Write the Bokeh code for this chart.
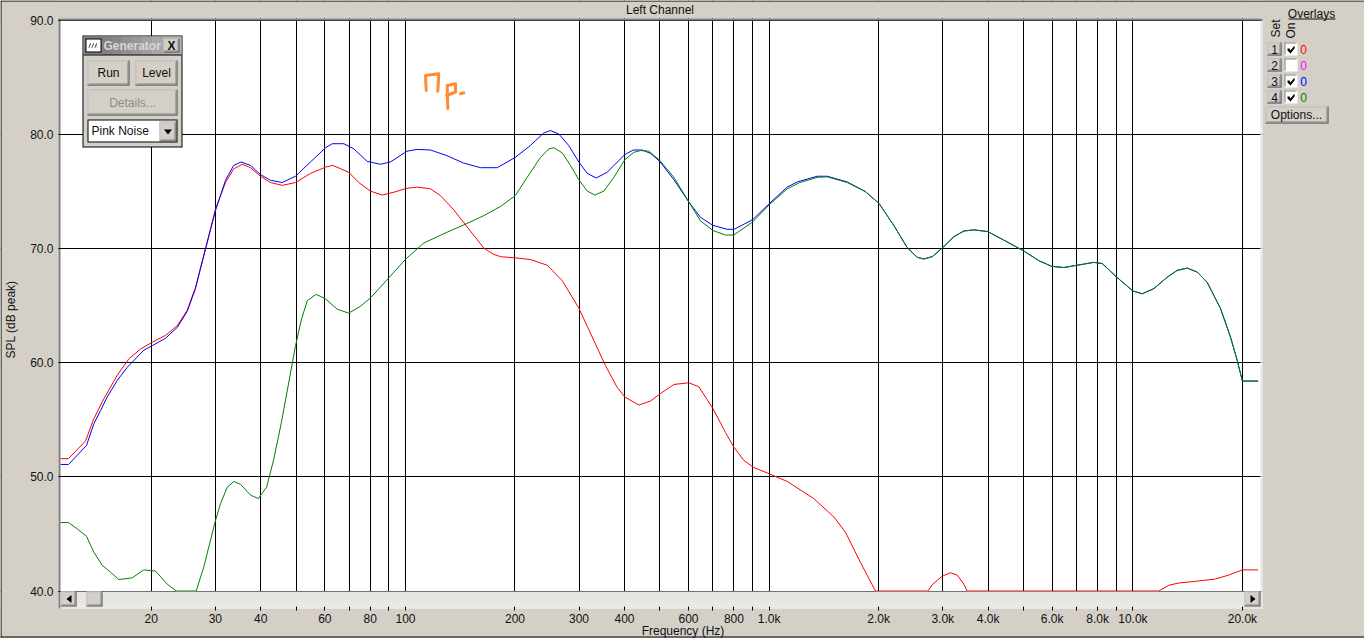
from bokeh.plotting import figure
from bokeh.embed import file_html
from bokeh.resources import INLINE
from bokeh.models import FixedTicker, Label, BoxAnnotation, PolyAnnotation

# ---- data ----
blue_hz = [11.26,11.84,13.27,13.9,14.5,15.13,16.12,17.17,19.07,20.12,21.88,23.57,25.1,26.46,27.2,28.2,30.04,32,33.7,35.3,37.5,39.9,42.5,45.8,49.85,54.8,60.3,62.9,67.7,72.1,78.5,85.4,90.9,101,107.7,117.1,130.2,144.6,160.8,178.7,200.3,220.7,240,250.4,264,281,299.6,316,334.5,358.5,401,423,447.5,472,500,547,601,647,700,766,801,901,1004,1121,1194,1355,1444,1639,1840,2006,2200,2395,2552,2661,2807,3001,3218,3429,3652,3991,4417,5012,5513,5984,6457,7027,7805,8236,9030,9993,10607,11416,12425,13241,14107,15026,16007,17418,18551,19360,20000,22100]
blue_db = [51.09,51.09,52.75,54.65,55.8,57.0,58.45,59.6,61.1,61.5,62.15,63.1,64.5,66.5,68.1,70.0,73.35,76.0,77.3,77.6,77.3,76.5,76.0,75.8,76.35,77.6,78.85,79.2,79.2,78.75,77.65,77.4,77.6,78.55,78.7,78.65,78.15,77.5,77.1,77.1,78.0,79.05,80.15,80.35,80.05,79.05,77.6,76.6,76.2,76.7,78.25,78.65,78.65,78.35,77.65,76.05,74.1,72.75,72.05,71.7,71.7,72.55,74.0,75.4,75.85,76.35,76.35,75.85,75.0,73.95,72.05,70.1,69.25,69.1,69.3,70.1,71.05,71.55,71.65,71.5,70.75,69.8,68.95,68.45,68.35,68.55,68.8,68.7,67.5,66.3,66.05,66.5,67.5,68.1,68.3,67.95,67.05,64.75,62.25,60.2,58.4,58.4]

green_hz = [11.26,11.84,12.51,13.27,13.9,14.66,15.45,16.28,17.72,19.07,20.54,22.12,23.41,26.58,27.88,30.04,31,32.35,33.75,35.2,37.5,39.4,41.5,43.4,45.6,49.85,51.7,53.7,56.8,60.3,64.9,69.8,75.2,80.5,90,100.2,112.3,130.2,146.2,164.2,182.5,200.3,216,235,247.7,255.8,269.7,284.2,299.6,316,331.5,351,373.9,401,424.5,442.7,466.7,500,547,601,647,700,758,799.5,901,1004,1121,1214,1355,1444,1639,1840,2006,2200,2395,2552,2661,2807,3001,3218,3429,3652,3991,4417,5012,5513,5984,6457,7027,7805,8236,9030,9993,10607,11416,12425,13241,14107,15026,16007,17418,18551,19360,20000,22100]
green_db = [46.0,46.0,45.45,44.8,43.4,42.25,41.65,41.0,41.15,41.85,41.75,40.6,40.0,40.0,42.1,46.2,47.65,49.1,49.6,49.35,48.4,48.1,49.1,51.5,54.8,61.5,63.75,65.45,66.0,65.6,64.7,64.35,64.95,65.75,67.45,69.1,70.5,71.45,72.15,72.9,73.7,74.65,76.25,78.0,78.75,78.85,78.4,77.3,76.05,75.05,74.7,75.05,76.25,77.8,78.45,78.6,78.55,77.75,76.25,74.1,72.45,71.6,71.2,71.2,72.35,73.9,75.25,75.8,76.25,76.3,75.8,75.0,73.95,72.05,70.1,69.25,69.1,69.3,70.1,71.05,71.55,71.65,71.5,70.75,69.8,68.95,68.45,68.35,68.55,68.8,68.7,67.5,66.3,66.05,66.5,67.5,68.1,68.3,67.95,67.05,64.75,62.25,60.2,58.4,58.4]

red_hz = [11.26,11.84,13.19,13.9,14.81,16.12,17.35,18.68,20.12,21.88,23.57,25.1,26.46,27.3,28.2,30.04,32,33.7,35.6,37.5,39.9,42.5,45.8,49.85,54.8,60.3,63.1,69.8,74.4,80.1,86.3,92.9,101,107.7,117.1,124.8,135.8,147.8,164.2,175,182.5,199.8,220.7,245.3,269.7,299.6,329.5,354.7,382,401,438,472,502,547,601,640.5,700,758,799.5,851.7,903.6,1004,1121,1326,1505,1621,1782,1960,2730,2807,2990,3152,3288,3429,3503,11780,12550,13370,14860,16870,18350,20000,22100]
red_db = [51.6,51.6,53.15,55.1,56.85,58.9,60.35,61.2,61.8,62.4,63.25,64.6,66.6,68.2,70.0,73.5,75.8,77.0,77.4,77.1,76.35,75.8,75.55,75.8,76.6,77.15,77.3,76.7,75.8,75.05,74.7,74.95,75.3,75.4,75.25,74.65,73.4,71.9,70.05,69.5,69.3,69.2,69.05,68.55,67.2,64.8,61.95,59.75,57.85,57.0,56.3,56.65,57.3,58.1,58.25,57.9,56.0,53.9,52.6,51.45,50.85,50.25,49.6,48.1,46.5,45.15,42.5,40.0,40.0,40.55,41.3,41.6,41.4,40.6,40.0,40.0,40.5,40.7,40.85,41.05,41.4,41.85,41.85]

x_labelled = [20,30,40,60,80,100,200,300,400,600,800,1000,2000,3000,4000,6000,8000,10000,20000]
x_names = ["20","30","40","60","80","100","200","300","400","600","800","1.0k","2.0k","3.0k","4.0k","6.0k","8.0k","10.0k","20.0k"]
x_unlabelled = [50,70,90,500,700,900,5000,7000,9000]
y_ticks = [40,50,60,70,80,90]

FACE = "#d4d0c8"
FONT = "Liberation Sans"
W, H = 1364, 638
DECADE_PX = 363.7
PX_PER_DB = 11.41


def hz_at(px):
    return 10 ** (2 + (px - 405) / DECADE_PX)


def db_at(py):
    return 90 - (py - 20) / PX_PER_DB


# The frame fills the page so that the window chrome around the plot can be drawn in it.
p = figure(width=W, height=H, margin=(0, 0, 0, 0), output_backend="svg",
           toolbar_location=None, x_axis_type="log",
           x_range=(hz_at(0), hz_at(W)), y_range=(db_at(H), db_at(0)),
           min_border_left=0, min_border_right=0, min_border_top=0, min_border_bottom=0,
           background_fill_color="white", border_fill_color=FACE, outline_line_color=None)

# axes and grid
ax = p.xaxis[0]
ax.fixed_location = db_at(606)
ax.level = "overlay"
ax.ticker = FixedTicker(ticks=x_labelled, minor_ticks=x_unlabelled)
ax.major_label_overrides = dict(zip(x_labelled, x_names))
ax.axis_line_color = None
ax.major_tick_out, ax.major_tick_in = 4, 0
ax.minor_tick_out, ax.minor_tick_in = 4, 0
ax.major_tick_line_color = "black"
ax.minor_tick_line_color = "black"
ax.major_label_standoff = 1
ax.major_label_text_font = FONT
ax.major_label_text_font_size = "12px"
ax.major_label_text_color = "#101010"

ay = p.yaxis[0]
ay.fixed_location = hz_at(60)
ay.level = "overlay"
ay.ticker = FixedTicker(ticks=y_ticks)
ay.major_label_overrides = {v: f"{v:.1f}" for v in y_ticks}
ay.axis_line_color = None
ay.minor_tick_line_color = None
ay.major_tick_out, ay.major_tick_in = 2, 0
ay.major_tick_line_color = "black"
ay.major_label_standoff = 5
ay.major_label_text_font = FONT
ay.major_label_text_font_size = "12px"
ay.major_label_text_color = "#101010"
ay.axis_label = "SPL (dB peak)"
ay.axis_label_text_font = FONT
ay.axis_label_text_font_size = "12px"
ay.axis_label_text_font_style = "normal"
ay.axis_label_text_color = "#101010"
ay.axis_label_standoff = 9

for g in (p.xgrid, p.ygrid):
    g.grid_line_color = "black"
    g.grid_line_width = 1
    g.grid_line_alpha = 1
p.xgrid.minor_grid_line_color = "black"
p.xgrid.ticker = ax.ticker
p.ygrid.ticker = ay.ticker

# curves
p.line(red_hz, red_db, line_color="#ff0000", line_width=1)
p.line(blue_hz, blue_db, line_color="#0000ff", line_width=1)
p.line(green_hz, green_db, line_color="#008000", line_width=1)

# handwritten note on the screenshot
note_strokes = [
    [(425.7, 90), (425, 75), (438.3, 73.3), (437.3, 90.7)],
    [(447.3, 108), (446.7, 85), (455, 83.3), (455, 91.7), (446, 95)],
    [(460, 93.3), (463.3, 92.3)],
]
for stroke in note_strokes:
    p.line([hz_at(a) for a, _ in stroke], [db_at(b) for _, b in stroke],
           line_color="#ff8a33", line_width=3, line_cap="round", line_join="round")


# ---- window chrome, given in page pixels ----
def box(l, t, r, b, fill=FACE, level="overlay"):
    p.add_layout(BoxAnnotation(left=l, right=r, top=H - t, bottom=H - b,
                               left_units="screen", right_units="screen",
                               top_units="screen", bottom_units="screen",
                               fill_color=fill, fill_alpha=1, line_color=None, level=level))


def poly(points, fill="black"):
    p.add_layout(PolyAnnotation(xs=[a for a, _ in points], ys=[H - b for _, b in points],
                                xs_units="screen", ys_units="screen",
                                fill_color=fill, fill_alpha=1, line_color=None, level="overlay"))


def text(px, py, s, align="center", color="#101010", size=12, angle=0, style="normal"):
    p.add_layout(Label(x=px, y=H - py, x_units="screen", y_units="screen", text=s,
                       text_align=align, text_baseline="middle", text_color=color,
                       text_font=FONT, text_font_size=f"{size}px", text_font_style=style,
                       angle=angle, angle_units="deg", level="overlay"))


def button(l, t, r, b):
    box(l, t, r, b, "#404040")
    box(l, t, r - 1, b - 1, "#ffffff")
    box(l + 1, t + 1, r - 1, b - 1, "#808080")
    box(l + 1, t + 1, r - 2, b - 2, FACE)


# surround of the plot area, under the axes
box(0, 0, 58, H, FACE, "annotation")
box(0, 0, W, 18, FACE, "annotation")
box(1262, 0, W, H, FACE, "annotation")
box(0, 608, W, H, FACE, "annotation")
box(58, 18, 60, 608, "#808080", "annotation")
box(58, 18, 1262, 20, "#808080", "annotation")
box(1260, 20, 1262, 608, "#e6e6e6", "annotation")
box(60, 606, 1262, 608, "#e6e6e6", "annotation")
# screenshot outline
box(0, 0, W, 1, "#000000", "annotation")
box(0, 0, 1, H, "#000000", "annotation")
box(0, 636, W, 637, "#000000", "annotation")

# scrollbar
box(60, 591, 1260, 606, "#e8e6e2")
button(60, 591, 76, 606)
poly([(71, 594.5), (71, 602.5), (66, 598.5)])
button(86, 591, 102, 606)
button(1244, 591, 1260, 606)
poly([(1250, 594.5), (1250, 602.5), (1255, 598.5)])

# titles
text(659.5, 9, "Left Channel")
text(682.5, 630, "Frequency (Hz)")

# generator window
box(82, 35, 182, 147, "#000000")
box(83, 36, 181, 146, FACE)
box(83, 36, 181, 54, "#808080")
title_shades = ["#808080", "#888888", "#909090", "#989898", "#a0a0a0", "#a8a8a8", "#b0b0b0", "#b4b4b4"]
for i, shade in enumerate(title_shades):
    box(101 + i * 10, 36, 111 + i * 10, 54, shade)
box(83, 54, 181, 55, "#000000")
box(85, 38, 101, 52, "#000000")
box(86, 39, 100, 51, "#ffffff")
poly([(88, 47), (90, 42), (91, 47), (93, 42), (94, 47), (96, 42), (97, 47), (96.5, 47), (96, 44), (94.5, 48), (93, 44), (91.5, 48), (90, 44), (88.5, 48)], "#404040")
text(103, 45, "Generator", align="left", color="#d8d8d8", style="bold")
button(163, 38, 179, 52)
text(171, 45, "X", style="bold")
button(87, 60, 129, 85)
text(108, 72, "Run")
button(135, 60, 177, 85)
text(156, 72, "Level")
button(87, 89, 177, 115)
text(132, 102, "Details...", color="#8c8c8c")
box(87, 119, 177, 142, "#000000")
box(88, 120, 176, 141, "#ffffff")
text(91, 130.5, "Pink Noise", align="left")
button(159, 121, 176, 141)
poly([(163.5, 129), (171.5, 129), (167.5, 134)])

# overlays panel
text(1311, 13, "Overlays")
box(1288, 18, 1335, 19, "#101010")
text(1275, 28, "Set", angle=90)
text(1290, 30, "On", angle=90)
overlay_sets = ["1", "2", "3", "4"]
overlay_on = [True, False, True, True]
overlay_colors = ["#ff0000", "#ff00ff", "#0000ff", "#008000"]
for i, (name, on, col) in enumerate(zip(overlay_sets, overlay_on, overlay_colors)):
    y = 42 + 16 * i
    button(1267, y, 1281, y + 13)
    text(1274, y + 6.5, name)
    box(1284, y, 1297, y + 13, "#ffffff")
    box(1284, y, 1296, y + 1, "#808080")
    box(1284, y, 1285, y + 12, "#808080")
    if on:
        poly([(1287, y + 6), (1289, y + 6), (1290, y + 8), (1294, y + 3), (1294, y + 6), (1290, y + 11), (1287, y + 8)])
    text(1303, y + 6.5, "0", color=col)
button(1265, 106, 1328, 123)
text(1296, 114.5, "Options...")

open("out.html", "w").write(file_html(p, INLINE))
